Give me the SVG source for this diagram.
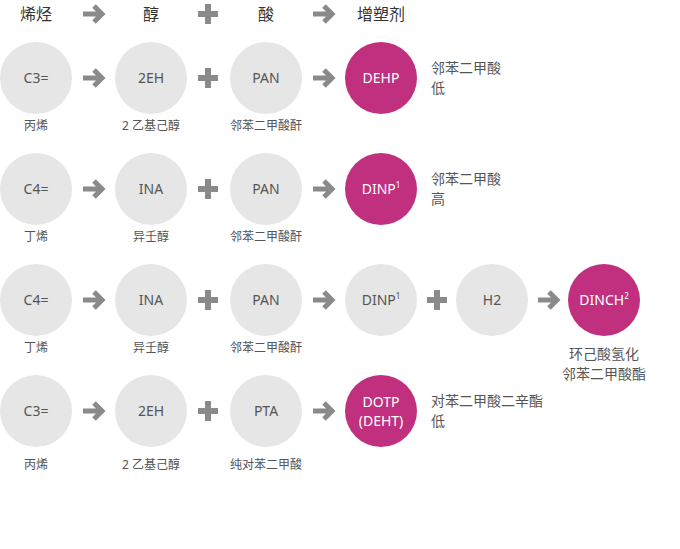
<svg xmlns="http://www.w3.org/2000/svg" width="680" height="549" viewBox="0 0 680 549">
<style>
text{font-family:"Noto Sans","Noto Sans CJK SC",sans-serif;text-anchor:middle}
.g{fill:#e6e6e6}.m{fill:#c0307e}
.t{font-size:14px;fill:#555}.w{font-size:14px;fill:#fff}
.s{font-size:12px;fill:#555}.h{font-size:16px;fill:#333}
.n{font-size:14px;fill:#555;text-anchor:start}
.ar{fill:none;stroke:#8a8a8a;stroke-width:5}
.pl{stroke:#8a8a8a;stroke-width:6}
</style>
<defs>
<g id="arr"><path class="ar" d="M-10 0H9M1-8L9 0L1 8"/></g>
<g id="plus"><path class="pl" d="M-10 0H10M0-10V10"/></g>
</defs>
<g id="header">
<text class="h" x="36" y="20">烯烃</text><text class="h" x="151" y="20">醇</text><text class="h" x="266" y="20">酸</text><text class="h" x="381" y="20">增塑剂</text>
</g>
<g id="connectors">
<use href="#arr" x="93" y="14"/><use href="#plus" x="208" y="14"/><use href="#arr" x="323" y="14"/>
<use href="#arr" x="93" y="78"/><use href="#plus" x="208" y="78"/><use href="#arr" x="323" y="78"/>
<use href="#arr" x="93" y="189"/><use href="#plus" x="208" y="189"/><use href="#arr" x="323" y="189"/>
<use href="#arr" x="93" y="300"/><use href="#plus" x="208" y="300"/><use href="#arr" x="323" y="300"/><use href="#plus" x="437" y="300"/><use href="#arr" x="548" y="300"/>
<use href="#arr" x="93" y="411"/><use href="#plus" x="208" y="411"/><use href="#arr" x="323" y="411"/>
</g>
<g id="r1">
<g id="r1c1"><circle class="g" cx="36" cy="78" r="36"/><text class="t" x="36" y="83">C3=</text><text class="s" x="36" y="130">丙烯</text></g>
<g id="r1c2"><circle class="g" cx="151" cy="78" r="36"/><text class="t" x="151" y="83">2EH</text><text class="s" x="151" y="130">2 乙基己醇</text></g>
<g id="r1c3"><circle class="g" cx="266" cy="78" r="36"/><text class="t" x="266" y="83">PAN</text><text class="s" x="266" y="130">邻苯二甲酸酐</text></g>
<g id="r1c4"><circle class="m" cx="381" cy="78" r="36"/><text class="w" x="381" y="83">DEHP</text><text class="n" x="431" y="73">邻苯二甲酸</text><text class="n" x="431" y="93">低</text></g>
</g>
<g id="r2">
<g id="r2c1"><circle class="g" cx="36" cy="189" r="36"/><text class="t" x="36" y="194">C4=</text><text class="s" x="36" y="241">丁烯</text></g>
<g id="r2c2"><circle class="g" cx="151" cy="189" r="36"/><text class="t" x="151" y="194">INA</text><text class="s" x="151" y="241">异壬醇</text></g>
<g id="r2c3"><circle class="g" cx="266" cy="189" r="36"/><text class="t" x="266" y="194">PAN</text><text class="s" x="266" y="241">邻苯二甲酸酐</text></g>
<g id="r2c4"><circle class="m" cx="381" cy="189" r="36"/><text class="w" x="381" y="194">DINP<tspan font-size="8" dy="-6">1</tspan></text><text class="n" x="431" y="184">邻苯二甲酸</text><text class="n" x="431" y="204">高</text></g>
</g>
<g id="r3">
<g id="r3c1"><circle class="g" cx="36" cy="300" r="36"/><text class="t" x="36" y="305">C4=</text><text class="s" x="36" y="352">丁烯</text></g>
<g id="r3c2"><circle class="g" cx="151" cy="300" r="36"/><text class="t" x="151" y="305">INA</text><text class="s" x="151" y="352">异壬醇</text></g>
<g id="r3c3"><circle class="g" cx="266" cy="300" r="36"/><text class="t" x="266" y="305">PAN</text><text class="s" x="266" y="352">邻苯二甲酸酐</text></g>
<g id="r3c4"><circle class="g" cx="381" cy="300" r="36"/><text class="t" x="381" y="305">DINP<tspan font-size="8" dy="-6">1</tspan></text></g>
<g id="r3c5"><circle class="g" cx="492" cy="300" r="36"/><text class="t" x="492" y="305">H2</text></g>
<g id="r3c6"><circle class="m" cx="604" cy="300" r="36"/><text class="w" x="604" y="305">DINCH<tspan font-size="8" dy="-6">2</tspan></text><text class="t" x="604" y="359">环己酸氢化</text><text class="t" x="604" y="379">邻苯二甲酸酯</text></g>
</g>
<g id="r4">
<g id="r4c1"><circle class="g" cx="36" cy="411" r="36"/><text class="t" x="36" y="416">C3=</text><text class="s" x="36" y="469">丙烯</text></g>
<g id="r4c2"><circle class="g" cx="151" cy="411" r="36"/><text class="t" x="151" y="416">2EH</text><text class="s" x="151" y="469">2 乙基己醇</text></g>
<g id="r4c3"><circle class="g" cx="266" cy="411" r="36"/><text class="t" x="266" y="416">PTA</text><text class="s" x="266" y="469">纯对苯二甲酸</text></g>
<g id="r4c4"><circle class="m" cx="381" cy="411" r="36"/><text class="w" x="381" y="407">DOTP</text><text class="w" x="381" y="426" font-size="11">(DEHT)</text><text class="n" x="431" y="406">对苯二甲酸二辛酯</text><text class="n" x="431" y="426">低</text></g>
</g>
</svg>
